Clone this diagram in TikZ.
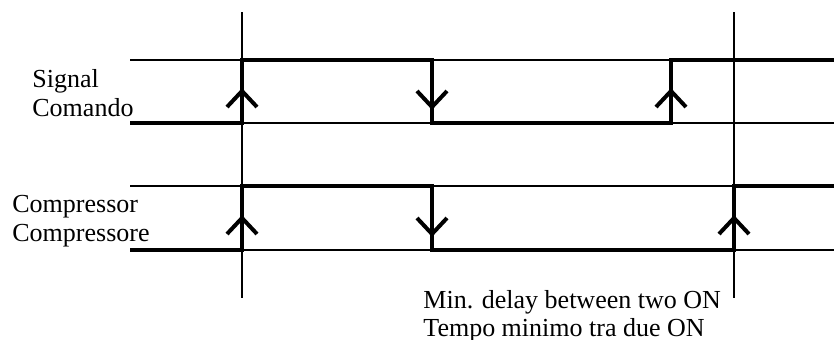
\documentclass[tikz,border=0pt]{standalone}
\usepackage{fontspec}
\setmainfont{Liberation Serif}
\begin{document}
\begin{tikzpicture}[x=0.5pt,y=-0.5pt,
  guide/.style={line width=1pt},
  wave/.style={line width=2.3pt},
  edgemark/.style={line width=2pt},
  lbl/.style={inner sep=0pt, anchor=base west, font=\fontsize{13}{14.5}\selectfont}]
\useasboundingbox (0,0) rectangle (834,339);

% level guides of the two traces
\draw[guide] (130,60) -- (834,60);
\draw[guide] (130,123) -- (834,123);
\draw[guide] (130,186) -- (834,186);
\draw[guide] (130,250) -- (834,250);

% time markers
\draw[guide] (242,12) -- (242,298);
\draw[guide] (734,12) -- (734,298);

% command signal
\draw[wave] (130,123) -- (242,123) -- (242,60) -- (432,60) -- (432,123)
  -- (671,123) -- (671,60) -- (834,60);
% compressor state
\draw[wave] (130,250) -- (242,250) -- (242,186) -- (432,186) -- (432,250)
  -- (734,250) -- (734,186) -- (834,186);

% edge direction marks
\draw[edgemark] (227,107) -- (242,91) -- (257,107);
\draw[edgemark] (417,91) -- (432,107) -- (447,91);
\draw[edgemark] (656,107) -- (671,91) -- (686,107);
\draw[edgemark] (227,234) -- (242,218) -- (257,234);
\draw[edgemark] (417,218) -- (432,234) -- (447,218);
\draw[edgemark] (719,234) -- (734,218) -- (749,234);

% labels
\node[lbl] (sig1) at (32,87) {Signal};
\node[lbl] (sig2) at (32,116) {Comando};
\node[lbl] (cmp1) at (12,212) {Compressor};
\node[lbl] (cmp2) at (12,241) {Compressore};
\node[lbl] (dly1) at (423,308) {Min. delay between two ON};
\node[lbl] (dly2) at (423,336) {Tempo minimo tra due ON};
\end{tikzpicture}
\end{document}
